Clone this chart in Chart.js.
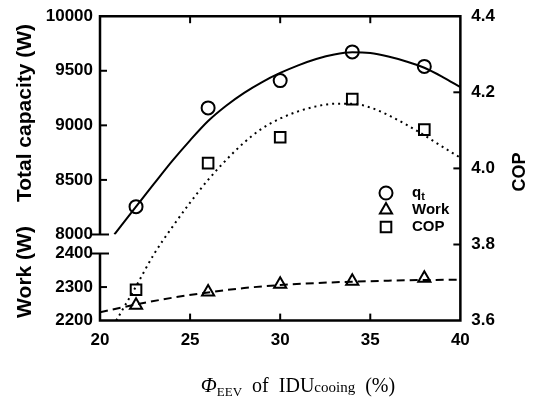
<!DOCTYPE html>
<html>
<head>
<meta charset="utf-8">
<script src="https://cdn.jsdelivr.net/npm/chart.js@4"></script>
<style>
  html, body { margin: 0; padding: 0; background: #fff; overflow: hidden; }
  canvas { display: block; margin-top: -5px; }
</style>
</head>
<body>
<canvas id="chart" width="536" height="413"></canvas>
<script>
// measured points
const idu = [22, 26, 30, 34, 38];
const capacity = [8255, 9160, 9410, 9673, 9540];
const work = [2246, 2285, 2308, 2317, 2326];
const cop = [3.681, 4.014, 4.082, 4.182, 4.102];

// fitted curves
const capFitX = [20.8, 22, 23, 24, 25, 26, 27, 28, 29, 30, 31, 32, 33, 34, 35, 36, 37, 38, 39, 40];
const capFitY = [8000, 8255, 8465, 8672, 8863, 9040, 9180, 9298, 9397, 9480, 9550, 9608, 9650, 9670, 9662, 9630, 9585, 9528, 9445, 9350];
const workFitX = [20, 22, 24, 26, 28, 30, 32, 34, 36, 38, 40];
const workFitY = [2225, 2248, 2268, 2284, 2297, 2306, 2312, 2316, 2319, 2321, 2322];
const copFitX = [20.9, 22, 23, 24, 25, 26, 27, 28, 29, 30, 31, 32, 33, 34, 35, 36, 37, 38, 39, 40];
const copFitY = [3.60, 3.69, 3.775, 3.845, 3.91, 3.97, 4.022, 4.068, 4.105, 4.131, 4.15, 4.163, 4.17, 4.17, 4.16, 4.14, 4.115, 4.087, 4.057, 4.028];

// axis ranges
const xRange = [20, 40];
const capRange = [8000, 10000];
const workRange = [2200, 2400];
const copRange = [3.6, 4.4];

const pts = (xs, ys) => xs.map((x, i) => ({ x: x, y: ys[i] }));

const sans = '"Liberation Sans", Arial, sans-serif';
const serif = '"Liberation Serif", "Times New Roman", serif';
const tickFont = { family: sans, size: 17, weight: 'bold' };
const plain = v => String(v);
const OFF = 5; // canvas is shifted up by this much

// frame, inner ticks, axis break, titles and legend
const decor = {
    id: 'decor',
    afterDatasetsDraw(chart) {
        const { ctx, chartArea: a, scales: s } = chart;
        ctx.save();
        ctx.strokeStyle = '#000';
        ctx.fillStyle = '#000';
        ctx.lineWidth = 2.5;
        ctx.lineJoin = 'miter';

        const yT8000 = s.yT.getPixelForValue(capRange[0]);
        const yB2400 = s.yB.getPixelForValue(workRange[1]);

        ctx.beginPath();
        ctx.moveTo(a.left, yT8000);
        ctx.lineTo(a.left, a.top);
        ctx.lineTo(a.right, a.top);
        ctx.lineTo(a.right, a.bottom);
        ctx.lineTo(a.left, a.bottom);
        ctx.lineTo(a.left, yB2400);
        ctx.stroke();

        const line = (x1, y1, x2, y2) => {
            ctx.beginPath();
            ctx.moveTo(x1, y1);
            ctx.lineTo(x2, y2);
            ctx.stroke();
        };
        ctx.lineWidth = 2;
        const tl = 7;
        s.x.ticks.forEach(t => {
            if (t.value <= xRange[0] || t.value >= xRange[1]) return;
            const px = s.x.getPixelForValue(t.value);
            line(px, a.bottom, px, a.bottom - tl);
            line(px, a.top, px, a.top + tl);
        });
        s.yT.ticks.forEach(t => {
            if (t.value >= capRange[1]) return;
            const py = s.yT.getPixelForValue(t.value);
            if (t.value === capRange[0]) line(a.left - 9, py, a.left + 9, py);
            else line(a.left, py, a.left + tl, py);
        });
        s.yB.ticks.forEach(t => {
            if (t.value <= workRange[0]) return;
            const py = s.yB.getPixelForValue(t.value);
            if (t.value === workRange[1]) line(a.left - 9, py, a.left + 9, py);
            else line(a.left, py, a.left + tl, py);
        });
        s.yR.ticks.forEach(t => {
            if (t.value <= copRange[0] + 1e-9 || t.value >= copRange[1] - 1e-9) return;
            const py = s.yR.getPixelForValue(t.value);
            line(a.right, py, a.right - tl, py);
        });

        // axis titles
        const vtext = (txt, x, y, font) => {
            ctx.save();
            ctx.translate(x, y);
            ctx.rotate(-Math.PI / 2);
            ctx.font = font;
            ctx.textAlign = 'center';
            ctx.textBaseline = 'middle';
            ctx.fillText(txt, 0, 0);
            ctx.restore();
        };
        vtext('Total capacity (W)', 25, 113 + OFF, 'bold 21px ' + sans);
        vtext('Work (W)', 25, 272 + OFF, 'bold 21px ' + sans);
        vtext('COP', 520, 172 + OFF, 'bold 18px ' + sans);

        // x title
        const parts = [
            { t: 'Φ', f: 'italic 21px ' + serif, dy: 0 },
            { t: 'EEV', f: '13px ' + serif, dy: 4 },
            { t: '  of  IDU', f: '20px ' + serif, dy: 0 },
            { t: 'cooing', f: '15px ' + serif, dy: 0 },
            { t: '  (%)', f: '20px ' + serif, dy: 0 }
        ];
        let total = 0;
        parts.forEach(p => { ctx.font = p.f; p.w = ctx.measureText(p.t).width; total += p.w; });
        let cx = 298 - total / 2;
        ctx.textAlign = 'left';
        ctx.textBaseline = 'alphabetic';
        parts.forEach(p => { ctx.font = p.f; ctx.fillText(p.t, cx, 392 + OFF + p.dy); cx += p.w; });

        // legend
        const items = [
            { style: 'circle', r: 6.5, label: 'q', sub: 't' },
            { style: 'triangle', r: 7, label: 'Work' },
            { style: 'rect', r: 7.5, label: 'COP' }
        ];
        ctx.lineWidth = 2;
        items.forEach((it, i) => {
            const y = 193 + OFF + i * 17;
            ctx.fillStyle = 'rgba(0,0,0,0)';
            ctx.strokeStyle = '#000';
            Chart.helpers.drawPoint(ctx, { pointStyle: it.style, radius: it.r, borderWidth: 2, rotation: 0 }, 386, y);
            ctx.fillStyle = '#000';
            ctx.font = 'bold 15px ' + sans;
            ctx.textBaseline = 'middle';
            ctx.fillText(it.label, 412, y);
            if (it.sub) {
                const w = ctx.measureText(it.label).width;
                ctx.font = 'bold 11px ' + sans;
                ctx.fillText(it.sub, 412 + w, y + 4);
            }
        });
        ctx.restore();
    }
};

const ctx = document.getElementById('chart').getContext('2d');

const hollow = 'rgba(0,0,0,0)';

new Chart(ctx, {
    type: 'scatter',
    data: {
        datasets: [
            {
                label: 'qt fit',
                data: pts(capFitX, capFitY),
                yAxisID: 'yT',
                showLine: true,
                borderColor: '#000',
                borderWidth: 2,
                pointRadius: 0,
                cubicInterpolationMode: 'monotone'
            },
            {
                label: 'Work fit',
                data: pts(workFitX, workFitY),
                yAxisID: 'yB',
                showLine: true,
                borderColor: '#000',
                borderWidth: 2,
                borderDash: [8, 5],
                pointRadius: 0,
                cubicInterpolationMode: 'monotone'
            },
            {
                label: 'COP fit',
                data: pts(copFitX, copFitY),
                yAxisID: 'yR',
                showLine: true,
                borderColor: '#000',
                borderWidth: 2,
                borderDash: [2, 4],
                pointRadius: 0,
                cubicInterpolationMode: 'monotone'
            },
            {
                label: 'qt',
                data: pts(idu, capacity),
                yAxisID: 'yT',
                pointStyle: 'circle',
                pointRadius: 6.5,
                borderColor: '#000',
                backgroundColor: hollow,
                borderWidth: 2
            },
            {
                label: 'Work',
                data: pts(idu, work),
                yAxisID: 'yB',
                pointStyle: 'triangle',
                pointRadius: 7,
                borderColor: '#000',
                backgroundColor: hollow,
                borderWidth: 2
            },
            {
                label: 'COP',
                data: pts(idu, cop),
                yAxisID: 'yR',
                pointStyle: 'rect',
                pointRadius: 7.5,
                borderColor: '#000',
                backgroundColor: hollow,
                borderWidth: 2
            }
        ]
    },
    options: {
        responsive: false,
        animation: false,
        events: [],
        layout: { padding: { left: 42, right: 30, top: 10, bottom: 47 } },
        plugins: {
            legend: { display: false },
            tooltip: { enabled: false }
        },
        scales: {
            x: {
                type: 'linear',
                position: 'bottom',
                min: xRange[0],
                max: xRange[1],
                ticks: { stepSize: 5, font: tickFont, color: '#000', padding: 10, callback: plain },
                grid: { display: false, drawTicks: false },
                border: { display: false }
            },
            yB: {
                type: 'linear',
                position: 'left',
                stack: 'left',
                stackWeight: 67,
                min: workRange[0],
                max: workRange[1],
                ticks: { stepSize: 100, font: tickFont, color: '#000', padding: 7, autoSkip: false, callback: plain },
                grid: { display: false, drawTicks: false },
                border: { display: false }
            },
            yGap: {
                type: 'linear',
                position: 'left',
                stack: 'left',
                stackWeight: 19,
                ticks: { display: false },
                grid: { display: false, drawTicks: false },
                border: { display: false }
            },
            yT: {
                type: 'linear',
                position: 'left',
                stack: 'left',
                stackWeight: 218,
                min: capRange[0],
                max: capRange[1],
                ticks: { stepSize: 500, font: tickFont, color: '#000', padding: 7, autoSkip: false, callback: plain },
                grid: { display: false, drawTicks: false },
                border: { display: false }
            },
            yR: {
                type: 'linear',
                position: 'right',
                min: copRange[0],
                max: copRange[1],
                ticks: {
                    stepSize: 0.2,
                    font: tickFont,
                    color: '#000',
                    padding: 11,
                    autoSkip: false,
                    callback: v => v.toFixed(1)
                },
                grid: { display: false, drawTicks: false },
                border: { display: false }
            }
        }
    },
    plugins: [decor]
});
</script>
</body>
</html>
